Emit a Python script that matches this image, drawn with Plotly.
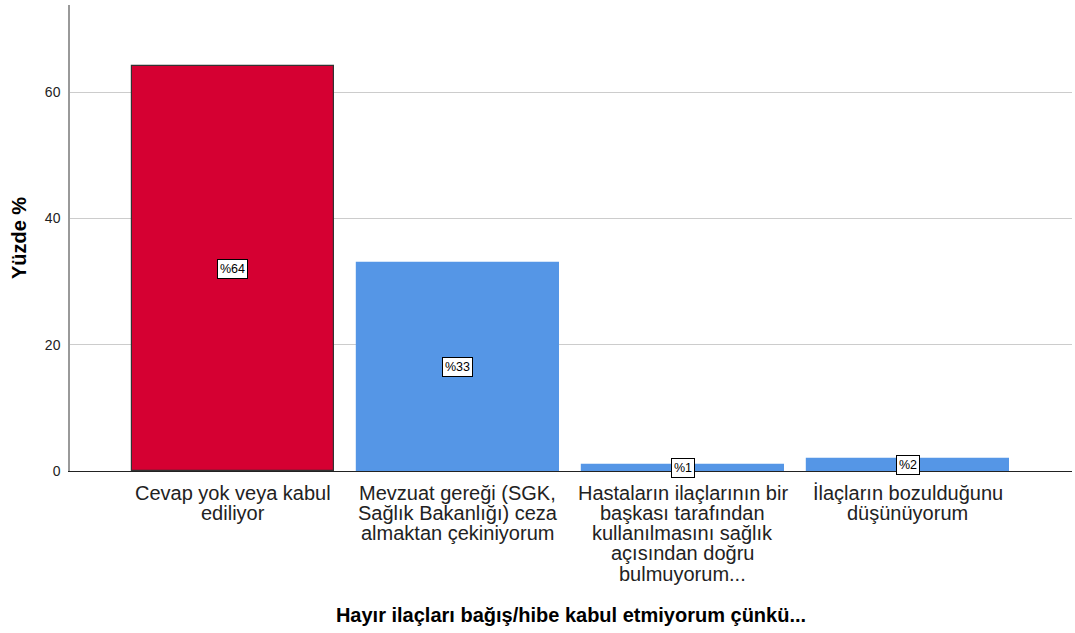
import plotly.graph_objects as go

categories = [
    "Cevap yok veya kabul\nediliyor",
    "Mevzuat gereği (SGK,\nSağlık Bakanlığı) ceza\nalmaktan çekiniyorum",
    "Hastaların ilaçlarının bir\nbaşkası tarafından\nkullanılmasını sağlık\naçısından doğru\nbulmuyorum...",
    "İlaçların bozulduğunu\ndüşünüyorum",
]
values = [64.1, 32.9, 1.0, 1.9]
labels = ["%64", "%33", "%1", "%2"]
colors = ["#D50032", "#5596E6", "#5596E6", "#5596E6"]
line_colors = ["#333333", "#5596E6", "#5596E6", "#5596E6"]

x_idx = list(range(len(categories)))
font = "Liberation Sans, Arial"

fig = go.Figure()
fig.add_trace(go.Bar(
    x=x_idx, y=values, width=0.9,
    marker=dict(color=colors, line=dict(color=line_colors, width=1.2)),
    hoverinfo="skip",
))

for i, (v, lab) in enumerate(zip(values, labels)):
    fig.add_annotation(
        x=i, y=v / 2, text=lab, showarrow=False,
        font=dict(family=font, size=12.5, color="#000"),
        bgcolor="white", bordercolor="#000", borderwidth=1, borderpad=2,
    )

# category labels (tight line spacing, one text line per annotation)
for i, cat in enumerate(categories):
    for j, line in enumerate(cat.split("\n")):
        fig.add_annotation(
            x=i, xref="x", y=0, yref="paper", yanchor="middle",
            yshift=-21.5 - 20.3 * j, text=line, showarrow=False,
            font=dict(family=font, size=20, color="#222"),
        )

fig.update_layout(
    width=1075, height=633,
    margin=dict(l=70, r=3, t=5, b=162),
    plot_bgcolor="white", paper_bgcolor="white",
    showlegend=False,
    bargap=0,
    xaxis=dict(
        range=[-0.724, 3.73],
        tickvals=x_idx, showticklabels=False,
        showline=True, linecolor="#222", linewidth=1,
        showgrid=False, ticks="",
        title=dict(text="<b>Hayır ilaçları bağış/hibe kabul etmiyorum çünkü...</b>",
                   font=dict(family=font, size=20, color="#000"), standoff=136),
        zeroline=False, automargin=False,
    ),
    yaxis=dict(
        range=[0, 73.8],
        tickvals=[0, 20, 40, 60],
        tickfont=dict(family=font, size=14, color="#222"),
        showline=True, linecolor="#999", linewidth=1.5,
        showgrid=True, gridcolor="#CCCCCC", gridwidth=1,
        ticks="outside", ticklen=5, tickcolor="rgba(0,0,0,0)",
        zeroline=False, automargin=False,
        title=dict(text="<b>Yüzde %</b>", font=dict(family=font, size=20, color="#000"), standoff=13),
    ),
)

fig.write_html("out.html", config={"displayModeBar": False},
               post_script="document.body.style.margin='0';")
